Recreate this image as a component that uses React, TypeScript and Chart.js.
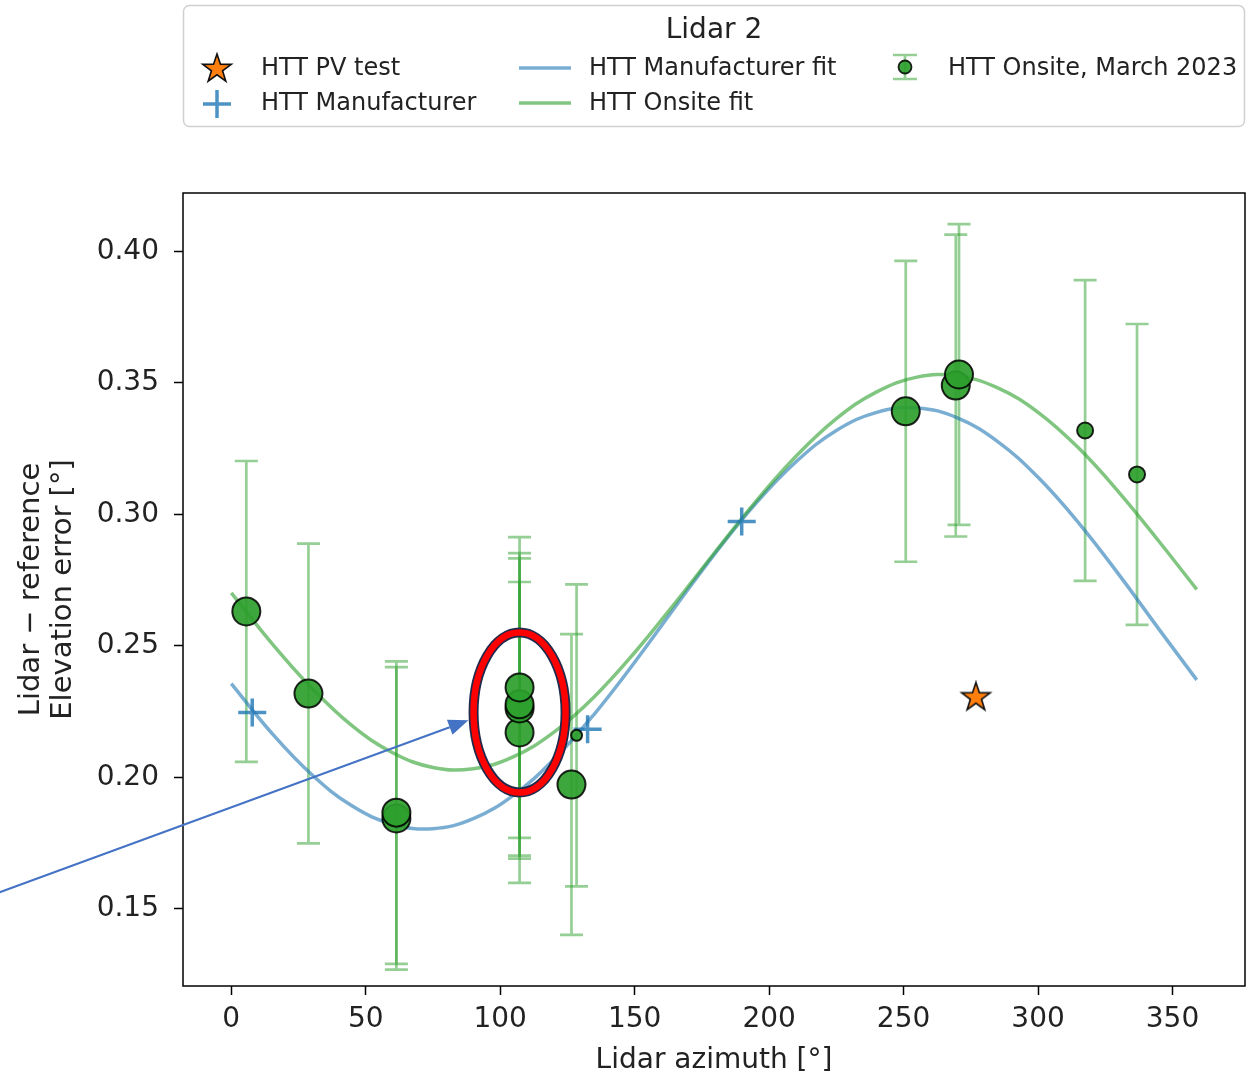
import React, { useEffect, useRef } from "react";
import { Chart, registerables } from "chart.js";

Chart.register(...registerables);

// ---------------- data ----------------
const onsiteAz = [5.6, 28.7, 61.4, 61.4, 107.2, 107.2, 107.2, 107.2, 126.5, 128.4, 250.8, 269.4, 270.6, 317.5, 336.8];
const onsiteVal = [0.2631, 0.2319, 0.1844, 0.1866, 0.2171, 0.2262, 0.2278, 0.2342, 0.1973, 0.216, 0.3392, 0.349, 0.3532, 0.3319, 0.3152];
const onsiteErr = [0.0572, 0.057, 0.0575, 0.0575, 0.0572, 0.0571, 0.0575, 0.0572, 0.0572, 0.0574, 0.0572, 0.0574, 0.0572, 0.0572, 0.0572];
const onsiteRadius = [14, 14, 14, 14, 14, 14, 14, 14, 14, 5.5, 14, 14, 14, 8, 8];

const manufAz = [7.8, 132.5, 189.8];
const manufVal = [0.2247, 0.2183, 0.2973];

const pvAz = [276.9];
const pvVal = [0.2304];

const fitAz = [0, 15, 30, 45, 60, 75, 90, 105, 120, 135, 150, 165, 180, 195, 210, 225, 240, 255, 270, 285, 300, 315, 330, 345, 359];
const manufFit = [0.2357, 0.2169, 0.201, 0.1891, 0.1822, 0.1805, 0.1843, 0.1933, 0.2069, 0.2241, 0.2438, 0.2647, 0.2853, 0.3041, 0.32, 0.3319, 0.3388, 0.3405, 0.3367, 0.3277, 0.3141, 0.2969, 0.2772, 0.2563, 0.2371];
const onsiteFit = [0.2702, 0.2511, 0.2339, 0.2196, 0.2094, 0.2038, 0.2033, 0.2079, 0.2172, 0.2307, 0.2475, 0.2663, 0.2858, 0.3049, 0.3221, 0.3364, 0.3466, 0.3522, 0.3527, 0.3481, 0.3388, 0.3253, 0.3085, 0.2897, 0.2715];

const xTickValues = [0, 50, 100, 150, 200, 250, 300, 350];
const yTickValues = [0.15, 0.2, 0.25, 0.3, 0.35, 0.4];

const legendTitle = "Lidar 2";
const labels = {
  pv: "HTT PV test",
  manuf: "HTT Manufacturer",
  manufFit: "HTT Manufacturer fit",
  onsiteFit: "HTT Onsite fit",
  onsite: "HTT Onsite, March 2023",
};

// annotation anchors (data coordinates)
const highlightAz = 107.2;
const highlightVal = 0.2247;
const arrowTipAz = 88.2;
const arrowTipVal = 0.2217;
const arrowStartAz = -86.3;
const arrowStartVal = 0.1563;

// ---------------- styles ----------------
const FONT = "DejaVu Sans";
const BLUE_LINE = "rgba(31,119,180,0.6)";
const GREEN_LINE = "rgba(44,160,44,0.6)";
const BLUE_MARK = "rgba(31,119,180,0.8)";
const GREEN_FILL = "rgba(44,160,44,0.92)";
const ERR_COLOR = "rgba(44,160,44,0.5)";
const TEXT = "#222";

function makeStar(r: number) {
  const size = Math.ceil(r * 2 + 4);
  const c = document.createElement("canvas");
  c.width = size;
  c.height = size;
  const ctx = c.getContext("2d")!;
  ctx.translate(size / 2, size / 2);
  ctx.beginPath();
  for (let i = 0; i < 10; i++) {
    const rad = i % 2 === 0 ? r : r * 0.39;
    const a = -Math.PI / 2 + (i * Math.PI) / 5;
    ctx.lineTo(rad * Math.cos(a), rad * Math.sin(a));
  }
  ctx.closePath();
  ctx.fillStyle = "#ff7f0e";
  ctx.fill();
  ctx.lineWidth = 1.6;
  ctx.strokeStyle = "#111";
  ctx.stroke();
  return c;
}

export default function App() {
  const ref = useRef<HTMLCanvasElement | null>(null);

  useEffect(() => {
    if (!ref.current) return;
    const star = makeStar(15);

    const errorBars = {
      id: "errorBars",
      beforeDatasetsDraw(chart: any) {
        const { ctx, chartArea, scales } = chart;
        const xs = scales.x;
        const ys = scales.y;
        ctx.save();
        ctx.beginPath();
        ctx.rect(chartArea.left, chartArea.top, chartArea.right - chartArea.left, chartArea.bottom - chartArea.top);
        ctx.clip();
        ctx.strokeStyle = ERR_COLOR;
        ctx.lineWidth = 2.7;
        for (let i = 0; i < onsiteAz.length; i++) {
          const x = xs.getPixelForValue(onsiteAz[i]);
          const yt = ys.getPixelForValue(onsiteVal[i] + onsiteErr[i]);
          const yb = ys.getPixelForValue(onsiteVal[i] - onsiteErr[i]);
          ctx.beginPath();
          ctx.moveTo(x, yt);
          ctx.lineTo(x, yb);
          ctx.moveTo(x - 11.5, yt);
          ctx.lineTo(x + 11.5, yt);
          ctx.moveTo(x - 11.5, yb);
          ctx.lineTo(x + 11.5, yb);
          ctx.stroke();
        }
        ctx.restore();
      },
      afterDraw(chart: any) {
        const { ctx, chartArea, scales } = chart;
        const xs = scales.x;
        const ys = scales.y;
        ctx.save();
        // frame
        ctx.strokeStyle = "#000";
        ctx.lineWidth = 1.5;
        ctx.strokeRect(chartArea.left, chartArea.top, chartArea.right - chartArea.left, chartArea.bottom - chartArea.top);

        // highlight ellipse
        const cx = xs.getPixelForValue(highlightAz);
        const cy = ys.getPixelForValue(highlightVal);
        ctx.beginPath();
        ctx.ellipse(cx, cy, 46, 80, 0, 0, Math.PI * 2);
        ctx.strokeStyle = "#1f2a4d";
        ctx.lineWidth = 10;
        ctx.stroke();
        ctx.beginPath();
        ctx.ellipse(cx, cy, 46, 80, 0, 0, Math.PI * 2);
        ctx.strokeStyle = "#ff0000";
        ctx.lineWidth = 6.5;
        ctx.stroke();

        // arrow
        const x0 = xs.getPixelForValue(arrowStartAz);
        const y0 = ys.getPixelForValue(arrowStartVal);
        const x1 = xs.getPixelForValue(arrowTipAz);
        const y1 = ys.getPixelForValue(arrowTipVal);
        const ang = Math.atan2(y1 - y0, x1 - x0);
        const headLen = 20;
        const headW = 8;
        const bx = x1 - headLen * Math.cos(ang);
        const by = y1 - headLen * Math.sin(ang);
        ctx.strokeStyle = "#4472C4";
        ctx.fillStyle = "#4472C4";
        ctx.lineWidth = 2;
        ctx.beginPath();
        ctx.moveTo(x0, y0);
        ctx.lineTo(bx, by);
        ctx.stroke();
        ctx.beginPath();
        ctx.moveTo(x1, y1);
        ctx.lineTo(bx + headW * Math.sin(ang), by - headW * Math.cos(ang));
        ctx.lineTo(bx - headW * Math.sin(ang), by + headW * Math.cos(ang));
        ctx.closePath();
        ctx.fill();

        // legend
        ctx.beginPath();
        (ctx as any).roundRect(183.5, 5.5, 1061, 121, 6);
        ctx.fillStyle = "rgba(255,255,255,0.85)";
        ctx.fill();
        ctx.strokeStyle = "#d0d0d0";
        ctx.lineWidth = 1.5;
        ctx.stroke();

        ctx.fillStyle = TEXT;
        ctx.textBaseline = "middle";
        ctx.textAlign = "center";
        ctx.font = `28px "${FONT}"`;
        ctx.fillText(legendTitle, 714, 31);

        ctx.textAlign = "left";
        ctx.font = `24px "${FONT}"`;
        const r1 = 69;
        const r2 = 104;
        ctx.fillText(labels.pv, 261, r1);
        ctx.fillText(labels.manuf, 261, r2);
        ctx.fillText(labels.manufFit, 589, r1);
        ctx.fillText(labels.onsiteFit, 589, r2);
        ctx.fillText(labels.onsite, 948, r1);

        // star symbol
        ctx.drawImage(star, 217 - star.width / 2, 69 - star.height / 2);
        // plus symbol
        ctx.strokeStyle = BLUE_MARK;
        ctx.lineWidth = 3.5;
        ctx.beginPath();
        ctx.moveTo(203, 104);
        ctx.lineTo(231, 104);
        ctx.moveTo(217, 90);
        ctx.lineTo(217, 118);
        ctx.stroke();
        // fit lines
        ctx.lineWidth = 3.5;
        ctx.strokeStyle = BLUE_LINE;
        ctx.beginPath();
        ctx.moveTo(519, 68);
        ctx.lineTo(571, 68);
        ctx.stroke();
        ctx.strokeStyle = GREEN_LINE;
        ctx.beginPath();
        ctx.moveTo(519, 103);
        ctx.lineTo(571, 103);
        ctx.stroke();
        // errorbar symbol
        ctx.strokeStyle = ERR_COLOR;
        ctx.lineWidth = 2.7;
        ctx.beginPath();
        ctx.moveTo(905, 55);
        ctx.lineTo(905, 79);
        ctx.moveTo(893, 55);
        ctx.lineTo(917, 55);
        ctx.moveTo(893, 79);
        ctx.lineTo(917, 79);
        ctx.stroke();
        ctx.beginPath();
        ctx.arc(905, 67, 6.5, 0, Math.PI * 2);
        ctx.fillStyle = GREEN_FILL;
        ctx.fill();
        ctx.strokeStyle = "rgba(0,0,0,0.85)";
        ctx.lineWidth = 1.8;
        ctx.stroke();
        ctx.restore();
      },
    };

    const chart = new Chart(ref.current, {
      type: "scatter",
      data: {
        datasets: [
          {
            label: labels.onsite,
            data: onsiteAz.map((x, i) => ({ x, y: onsiteVal[i] })),
            pointRadius: onsiteRadius,
            pointStyle: "circle",
            backgroundColor: GREEN_FILL,
            borderColor: "rgba(0,0,0,0.85)",
            borderWidth: 2,
            order: 0,
          },
          {
            label: labels.pv,
            data: pvAz.map((x, i) => ({ x, y: pvVal[i] })),
            pointStyle: star as any,
            pointRadius: 15,
            order: 1,
          },
          {
            label: labels.manuf,
            data: manufAz.map((x, i) => ({ x, y: manufVal[i] })),
            pointStyle: "cross",
            pointRadius: 14,
            borderWidth: 3.5,
            borderColor: BLUE_MARK,
            backgroundColor: BLUE_MARK,
            order: 2,
          },
          {
            label: labels.onsiteFit,
            data: fitAz.map((x, i) => ({ x, y: onsiteFit[i] })),
            showLine: true,
            pointRadius: 0,
            borderColor: GREEN_LINE,
            borderWidth: 3.5,
            tension: 0.4,
            order: 3,
          } as any,
          {
            label: labels.manufFit,
            data: fitAz.map((x, i) => ({ x, y: manufFit[i] })),
            showLine: true,
            pointRadius: 0,
            borderColor: BLUE_LINE,
            borderWidth: 3.5,
            tension: 0.4,
            order: 4,
          } as any,
        ],
      },
      options: {
        responsive: false,
        animation: false,
        events: [],
        layout: { autoPadding: false, padding: { top: 193, right: 4, left: 0, bottom: 0 } },
        plugins: {
          legend: { display: false },
          tooltip: { enabled: false },
        },
        scales: {
          x: {
            type: "linear",
            min: -17.95,
            max: 376.95,
            afterFit: (s: any) => {
              s.height = 92;
              s.paddingLeft = 0;
              s.paddingRight = 0;
            },
            afterBuildTicks: (s: any) => {
              s.ticks = xTickValues.map((v) => ({ value: v }));
            },
            ticks: {
              autoSkip: false,
              maxRotation: 0,
              padding: 8,
              color: TEXT,
              font: { family: FONT, size: 28 },
              callback: (v: any) => String(v),
            },
            grid: { drawOnChartArea: false, drawTicks: true, tickLength: 9, tickColor: "#000", tickWidth: 1.5 },
            border: { display: false },
            title: {
              display: true,
              text: "Lidar azimuth [°]",
              color: TEXT,
              font: { family: FONT, size: 28 },
              padding: { top: 0, bottom: 0 },
            },
          },
          y: {
            type: "linear",
            min: 0.1207,
            max: 0.4222,
            afterFit: (s: any) => {
              s.width = 183;
              s.paddingTop = 0;
              s.paddingBottom = 0;
            },
            afterBuildTicks: (s: any) => {
              s.ticks = yTickValues.map((v) => ({ value: v }));
            },
            ticks: {
              autoSkip: false,
              padding: 15,
              color: TEXT,
              font: { family: FONT, size: 28 },
              callback: (v: any) => Number(v).toFixed(2),
            },
            grid: { drawOnChartArea: false, drawTicks: true, tickLength: 9, tickColor: "#000", tickWidth: 1.5 },
            border: { display: false },
            title: {
              display: true,
              text: ["Lidar − reference", "Elevation error [°]"],
              color: TEXT,
              font: { family: FONT, size: 29, lineHeight: 1.086 },
              padding: { top: 16, bottom: 0 },
            },
          },
        },
      },
      plugins: [errorBars],
    } as any);

    return () => chart.destroy();
  }, []);

  return (
    <div style={{ position: "absolute", left: 0, top: 0, width: 1249, height: 1078 }}>
      <canvas ref={ref} width={1249} height={1078} style={{ display: "block" }} />
    </div>
  );
}
